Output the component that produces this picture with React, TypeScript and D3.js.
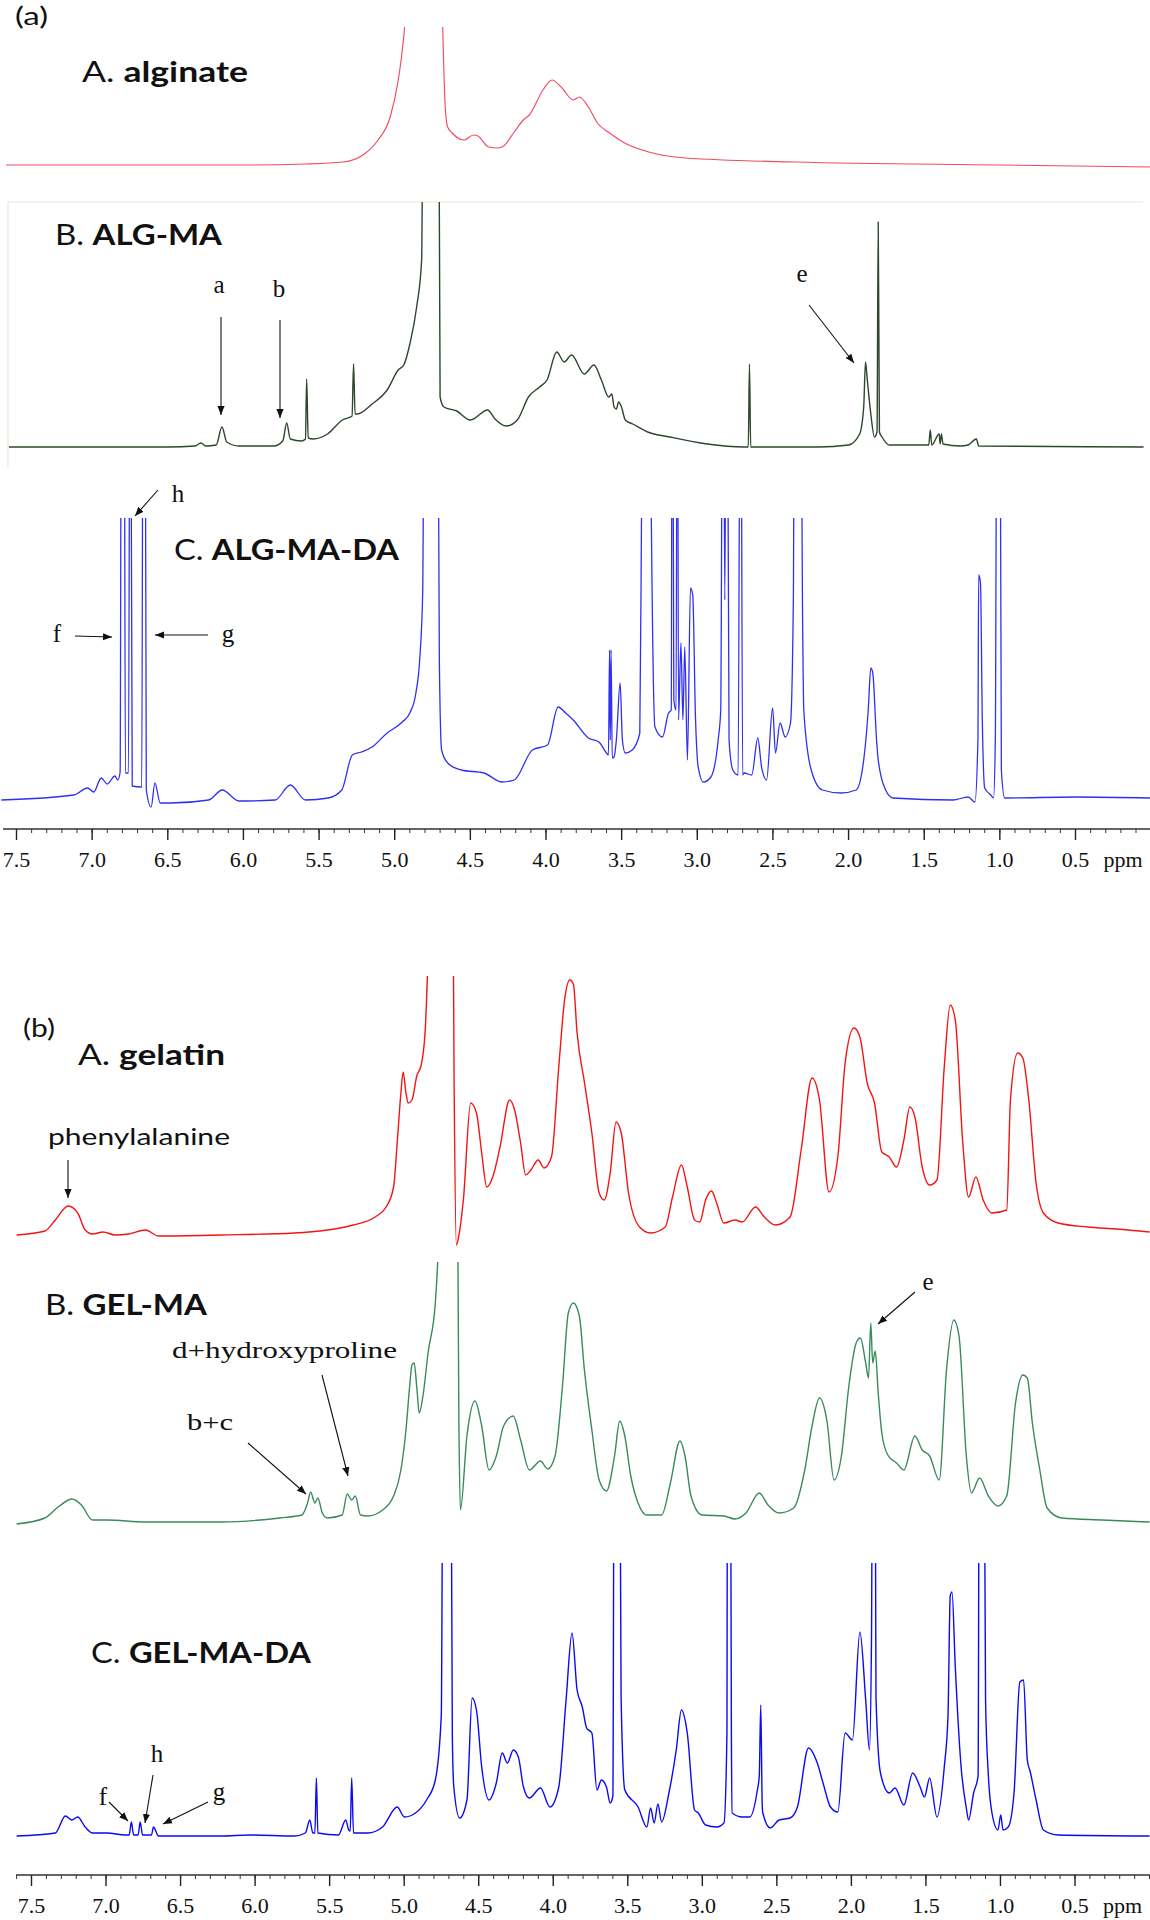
import React from 'react';
import * as d3 from 'd3';

type Pt = [number, number];

// ---------- data: [ppm, intensity] ----------
const alginate: Pt[] = [
  [7.57, 0], [6.6, 0], [6.0, 0], [5.59, 1], [5.34, 3], [5.21, 10], [5.11, 25], [5.03, 48], [4.98, 82],
  [4.95, 115], [4.93, 150], [4.88, 500], [4.73, 500], [4.685, 150], [4.665, 55], [4.65, 38], [4.62, 32],
  [4.54, 25], [4.48, 30], [4.45, 29], [4.38, 18], [4.32, 17], [4.28, 19], [4.21, 33], [4.15, 45], [4.11, 50],
  [4.02, 75], [3.96, 85], [3.90, 78], [3.82, 65], [3.78, 68], [3.72, 58], [3.66, 42], [3.58, 32], [3.48, 22],
  [3.32, 13], [3.08, 7], [2.35, 3], [1.0, 0], [0.0, -2],
];

const algMA: Pt[] = [
  [7.55, 0], [6.5, 0], [6.32, 1], [6.28, 4], [6.25, 1], [6.18, 2], [6.142, 20], [6.11, 5], [6.03, 1], [5.8, 1],
  [5.74, 6], [5.714, 24], [5.69, 8], [5.616, 6], [5.59, 8], [5.582, 68], [5.572, 9], [5.54, 8], [5.444, 13],
  [5.346, 27], [5.282, 31], [5.272, 83], [5.262, 33], [5.247, 33], [5.149, 43], [5.05, 57], [4.977, 77],
  [4.94, 82], [4.9, 103], [4.855, 140], [4.822, 187], [4.805, 600], [4.715, 600], [4.7, 50], [4.675, 40],
  [4.59, 36], [4.5, 27], [4.386, 37], [4.337, 28], [4.263, 21], [4.19, 27], [4.116, 50], [4.042, 60],
  [3.993, 67], [3.929, 95], [3.88, 85], [3.831, 92], [3.747, 73], [3.683, 82], [3.634, 67], [3.585, 50],
  [3.565, 53], [3.55, 40], [3.535, 38], [3.52, 45], [3.501, 40], [3.476, 27], [3.427, 23], [3.328, 15],
  [3.181, 10], [2.935, 3], [2.689, 0], [2.663, 0], [2.655, 83], [2.647, 0], [2.2, 0], [2.0, 2], [1.927, 13],
  [1.9, 40], [1.888, 85], [1.878, 70], [1.853, 33], [1.829, 10], [1.812, 15], [1.804, 225], [1.796, 15],
  [1.779, 10], [1.73, 2], [1.47, 2], [1.46, 17], [1.45, 2], [1.401, 13], [1.395, 3], [1.386, 13], [1.376, 3],
  [1.26, 1], [1.21, 2], [1.155, 8], [1.14, 1], [0.05, 0],
];

const algMADA: Pt[] = [
  [7.6, 0], [7.12, 5], [7.03, 12], [6.99, 8], [6.94, 22], [6.9, 16], [6.85, 24], [6.83, 20],
  [6.815, 28], [6.805, 600], [6.79, 600], [6.78, 27], [6.76, 27], [6.748, 600], [6.735, 14], [6.672, 13],
  [6.662, 600], [6.652, 600], [6.642, 10], [6.61, -7], [6.585, 17], [6.55, -3], [6.48, -3], [6.23, 0],
  [6.14, 10], [6.03, -1], [5.79, 0], [5.69, 15], [5.59, 0], [5.44, 2], [5.35, 10], [5.28, 45], [5.22, 48],
  [5.15, 53], [5.05, 67], [4.95, 78], [4.9, 87], [4.86, 107], [4.835, 140], [4.815, 208], [4.8, 600],
  [4.72, 600], [4.705, 140], [4.69, 50], [4.65, 37], [4.56, 30], [4.41, 27], [4.29, 18], [4.21, 20],
  [4.09, 50], [3.99, 55], [3.92, 93], [3.87, 87], [3.82, 80], [3.72, 62], [3.65, 58], [3.6, 47], [3.587, 45],
  [3.58, 150], [3.575, 60], [3.57, 150], [3.562, 42], [3.55, 43], [3.535, 60], [3.51, 117], [3.495, 60],
  [3.476, 47], [3.43, 50], [3.38, 67], [3.368, 300], [3.35, 600], [3.32, 600], [3.305, 300], [3.28, 73],
  [3.23, 63], [3.19, 87], [3.172, 90], [3.165, 600], [3.155, 100], [3.14, 90], [3.132, 600], [3.124, 80],
  [3.108, 157], [3.095, 80], [3.083, 153], [3.065, 40], [3.045, 212], [3.03, 205], [3.012, 83], [2.994, 33],
  [2.96, 18], [2.91, 23], [2.862, 60], [2.845, 90], [2.83, 600], [2.818, 200], [2.805, 600], [2.79, 60],
  [2.765, 30], [2.73, 25], [2.714, 600], [2.7, 25], [2.69, 27], [2.64, 25], [2.6, 62], [2.575, 33],
  [2.542, 20], [2.502, 92], [2.483, 47], [2.453, 77], [2.419, 63], [2.384, 77], [2.365, 200], [2.355, 600],
  [2.321, 600], [2.305, 200], [2.296, 90], [2.247, 30], [2.173, 10], [2.05, 7], [1.95, 10], [1.9, 40],
  [1.87, 90], [1.853, 132], [1.84, 127], [1.815, 60], [1.804, 40], [1.755, 10], [1.706, 2], [1.31, 0],
  [1.21, 3], [1.165, -2], [1.145, 60], [1.14, 225], [1.128, 217], [1.116, 80], [1.1, 12], [1.06, 5],
  [1.042, 2], [1.03, 60], [1.017, 600], [1.002, 600], [0.99, 30], [0.968, 2], [0.5, 3], [0.0, 2],
];

const gelatin: Pt[] = [
  [7.6, -1], [7.41, 3], [7.34, 14], [7.254, 28], [7.19, 21], [7.14, 4], [7.09, 0], [7.02, 2], [6.94, -1],
  [6.85, 0], [6.736, 4], [6.648, -2], [6.23, -1], [5.736, 1], [5.342, 9], [5.195, 17], [5.121, 27],
  [5.071, 47], [5.047, 91], [5.022, 141], [5.007, 162], [4.988, 141], [4.973, 131], [4.948, 134],
  [4.914, 159], [4.889, 167], [4.86, 201], [4.835, 300], [4.8, 500], [4.68, 500], [4.665, 150], [4.65, -11],
  [4.635, -3], [4.603, 34], [4.554, 131], [4.515, 121], [4.48, 81], [4.446, 47], [4.406, 57], [4.357, 87],
  [4.293, 134], [4.259, 124], [4.219, 91], [4.185, 59], [4.15, 64], [4.101, 74], [4.062, 66], [4.012, 77],
  [3.963, 167], [3.924, 234], [3.889, 254], [3.865, 250], [3.84, 201], [3.79, 151], [3.741, 101],
  [3.692, 41], [3.658, 34], [3.618, 61], [3.579, 112], [3.544, 101], [3.495, 41], [3.421, 7], [3.347, 1],
  [3.249, 7], [3.2, 37], [3.14, 69], [3.101, 47], [3.052, 14], [3.017, 12], [2.978, 34], [2.938, 43],
  [2.904, 31], [2.855, 11], [2.781, 14], [2.732, 12], [2.643, 27], [2.584, 17], [2.51, 9], [2.411, 17],
  [2.337, 84], [2.264, 156], [2.214, 134], [2.15, 42], [2.091, 77], [2.042, 171], [1.983, 206], [1.943, 197],
  [1.894, 151], [1.845, 131], [1.796, 82], [1.746, 77], [1.697, 67], [1.648, 94], [1.608, 127], [1.574, 117],
  [1.525, 67], [1.475, 49], [1.426, 54], [1.377, 167], [1.337, 229], [1.303, 214], [1.254, 94], [1.214, 37],
  [1.165, 57], [1.116, 34], [1.057, 21], [0.958, 24], [0.933, 134], [0.885, 181], [0.85, 176], [0.81, 134],
  [0.761, 51], [0.712, 21], [0.613, 11], [0.416, 7], [0.219, 5], [0.0, 2],
];

const gelMA: Pt[] = [
  [7.6, -1], [7.41, 5], [7.313, 17], [7.229, 24], [7.165, 18], [7.091, 3], [6.993, 3], [6.736, 1], [6.229, 1],
  [5.835, 5], [5.687, 8], [5.648, 20], [5.628, 31], [5.599, 20], [5.579, 25], [5.549, 10], [5.515, 5],
  [5.416, 8], [5.382, 29], [5.352, 23], [5.328, 27], [5.293, 8], [5.244, 7], [5.145, 13], [5.071, 27],
  [5.022, 53], [4.988, 93], [4.963, 137], [4.948, 158], [4.933, 160], [4.914, 133], [4.899, 110],
  [4.874, 127], [4.84, 170], [4.791, 220], [4.766, 300], [4.74, 500], [4.65, 500], [4.633, 100], [4.623, 13],
  [4.579, 87], [4.525, 122], [4.48, 97], [4.431, 53], [4.382, 67], [4.333, 97], [4.268, 107], [4.219, 83],
  [4.16, 53], [4.086, 62], [4.037, 54], [3.988, 67], [3.938, 137], [3.899, 210], [3.865, 220], [3.825, 207],
  [3.791, 153], [3.741, 93], [3.692, 43], [3.643, 32], [3.589, 67], [3.554, 102], [3.52, 87], [3.48, 47],
  [3.431, 20], [3.372, 8], [3.273, 8], [3.214, 40], [3.15, 82], [3.116, 67], [3.076, 27], [3.002, 8],
  [2.855, 7], [2.781, 4], [2.707, 10], [2.618, 30], [2.559, 18], [2.485, 10], [2.387, 15], [2.313, 53],
  [2.264, 97], [2.214, 125], [2.165, 103], [2.116, 43], [2.067, 67], [2.017, 137], [1.968, 180], [1.94, 185],
  [1.904, 160], [1.885, 145], [1.87, 200], [1.857, 160], [1.84, 172], [1.82, 130], [1.796, 90], [1.756, 68],
  [1.697, 60], [1.648, 53], [1.574, 87], [1.525, 73], [1.475, 67], [1.411, 43], [1.362, 153], [1.313, 203],
  [1.278, 187], [1.229, 67], [1.195, 30], [1.14, 45], [1.081, 27], [1.017, 17], [0.958, 27], [0.899, 120],
  [0.85, 148], [0.82, 145], [0.786, 100], [0.736, 53], [0.687, 15], [0.589, 5], [0.318, 3], [0.0, 1],
];

const gelMADA: Pt[] = [
  [7.6, 0], [7.34, 3], [7.273, 20], [7.229, 16], [7.19, 19], [7.14, 9], [7.091, 3], [6.993, 3], [6.87, 1],
  [6.845, 1], [6.83, 14], [6.815, 1], [6.785, 1], [6.771, 14], [6.755, 1], [6.695, 1], [6.682, 9],
  [6.648, 0], [6.229, 0], [6.032, 1], [5.736, 0], [5.663, 3], [5.633, 16], [5.613, 3], [5.599, 3],
  [5.589, 58], [5.579, 3], [5.441, 1], [5.392, 16], [5.372, 6], [5.362, 5], [5.352, 58], [5.34, 3],
  [5.244, 3], [5.145, 9], [5.047, 29], [4.998, 19], [4.924, 23], [4.85, 36], [4.791, 56], [4.751, 121],
  [4.735, 600], [4.692, 600], [4.677, 100], [4.667, 49], [4.628, 18], [4.579, 36], [4.544, 138],
  [4.515, 126], [4.48, 69], [4.431, 36], [4.382, 53], [4.342, 83], [4.308, 73], [4.268, 86], [4.234, 79],
  [4.2, 49], [4.16, 38], [4.086, 48], [4.022, 29], [3.963, 49], [3.914, 136], [3.874, 203], [3.84, 146],
  [3.805, 129], [3.776, 108], [3.741, 103], [3.707, 46], [3.677, 56], [3.643, 49], [3.618, 33], [3.6, 40],
  [3.589, 600], [3.575, 300], [3.559, 600], [3.545, 140], [3.52, 46], [3.431, 29], [3.372, 9], [3.347, 28],
  [3.323, 13], [3.298, 32], [3.273, 14], [3.224, 43], [3.175, 86], [3.14, 126], [3.101, 103], [3.052, 26],
  [3.027, 23], [2.978, 11], [2.904, 9], [2.855, 13], [2.835, 100], [2.83, 600], [2.815, 600], [2.805, 100],
  [2.8, 23], [2.732, 19], [2.682, 19], [2.633, 44], [2.618, 60], [2.608, 131], [2.598, 30], [2.594, 23],
  [2.544, 8], [2.485, 16], [2.411, 18], [2.362, 29], [2.288, 88], [2.229, 73], [2.19, 53], [2.14, 29],
  [2.091, 24], [2.042, 103], [1.993, 96], [1.943, 204], [1.904, 136], [1.879, 86], [1.865, 200], [1.855, 600],
  [1.845, 600], [1.835, 139], [1.805, 63], [1.746, 43], [1.707, 48], [1.648, 31], [1.589, 63], [1.539, 49],
  [1.51, 39], [1.475, 58], [1.426, 19], [1.377, 69], [1.352, 120], [1.337, 240], [1.325, 244], [1.303, 169],
  [1.264, 69], [1.229, 28], [1.214, 16], [1.18, 43], [1.15, 60], [1.14, 600], [1.116, 600], [1.1, 136],
  [1.081, 60], [1.057, 23], [1.017, 6], [0.998, 21], [0.983, 6], [0.948, 9], [0.909, 43], [0.87, 154],
  [0.845, 156], [0.82, 76], [0.8, 64], [0.761, 36], [0.712, 6], [0.613, 1], [0.0, 0],
];

const majorTicks: number[] = [7.5, 7.0, 6.5, 6.0, 5.5, 5.0, 4.5, 4.0, 3.5, 3.0, 2.5, 2.0, 1.5, 1.0, 0.5];
const axisUnit = 'ppm';

// ---------- layout ----------
const W = 1150;
const H = 1920;
const xA = d3.scaleLinear().domain([7.5, 0.5]).range([16.5, 1075.5]);
const xB = d3.scaleLinear().domain([7.5, 0.5]).range([31.5, 1075]);

const SANS = 'Lato, "Open Sans", sans-serif';
const SERIF = '"Liberation Serif", "DejaVu Serif", serif';

function Spectrum({ id, data, x, base, top, color, width = 1.3 }: { id: string; data: Pt[]; x: d3.ScaleLinear<number, number>; base: number; top: number; color: string; width?: number }) {
  const y = d3.scaleLinear().domain([0, 100]).range([base, base - 100]);
  const line = d3.line<Pt>().x((d) => x(d[0])).y((d) => y(d[1])).curve(d3.curveMonotoneX);
  return (
    <g>
      <clipPath id={id}>
        <rect x={0} y={top} width={W} height={base - top + 60} />
      </clipPath>
      <path d={line(data) || ''} fill="none" stroke={color} strokeWidth={width} strokeLinejoin="round" clipPath={`url(#${id})`} />
    </g>
  );
}

function Axis({ x, y, x0, labelY }: { x: d3.ScaleLinear<number, number>; y: number; x0: number; labelY: number }) {
  const minors = d3.range(0, 77).map((i) => +(7.6 - i * 0.1).toFixed(1)).filter((v) => x(v) >= x0 && x(v) <= W);
  const fmt = d3.format('.1f');
  return (
    <g>
      <line x1={x0} x2={W} y1={y} y2={y} stroke="#333" strokeWidth={1.6} />
      {minors.map((v) => (
        <line key={'m' + v} x1={x(v)} x2={x(v)} y1={y} y2={y + 4} stroke="#333" strokeWidth={1} />
      ))}
      {majorTicks.map((v) => (
        <line key={'M' + v} x1={x(v)} x2={x(v)} y1={y} y2={y + 11} stroke="#222" strokeWidth={1.4} />
      ))}
      {majorTicks.map((v) => (
        <text key={'t' + v} x={x(v)} y={labelY} textAnchor="middle" fontFamily={SERIF} fontSize={22} fill="#111">
          {fmt(v)}
        </text>
      ))}
      <text x={x(0.5) + 28} y={labelY} fontFamily={SERIF} fontSize={22} fill="#111">{axisUnit}</text>
    </g>
  );
}

function Arrow({ x1, y1, x2, y2 }: { x1: number; y1: number; x2: number; y2: number }) {
  return <line x1={x1} y1={y1} x2={x2} y2={y2} stroke="#111" strokeWidth={1.1} markerEnd="url(#ah)" />;
}

function Title({ x, y, pre, name, w }: { x: number; y: number; pre: string; name: string; w: number }) {
  return (
    <text x={x} y={y} fontFamily={SANS} fontSize={28.5} fill="#111" textLength={w} lengthAdjust="spacingAndGlyphs">
      <tspan>{pre} </tspan>
      <tspan fontWeight="bold">{name}</tspan>
    </text>
  );
}

function Label({ x, y, t, w, size = 24, font = SERIF }: { x: number; y: number; t: string; w: number; size?: number; font?: string }) {
  return (
    <text x={x} y={y} fontFamily={font} fontSize={size} fill="#111" textLength={w} lengthAdjust="spacingAndGlyphs">
      {t}
    </text>
  );
}

function Serif({ x, y, t, size = 25 }: { x: number; y: number; t: string; size?: number }) {
  return (
    <text x={x} y={y} fontFamily={SERIF} fontSize={size} fill="#111" textAnchor="middle">
      {t}
    </text>
  );
}

export default function App() {
  return (
    <svg width={W} height={H} viewBox={`0 0 ${W} ${H}`} style={{ position: 'absolute', left: 0, top: 0, background: '#fff' }}>
      <defs>
        <marker id="ah" viewBox="0 0 10 10" refX="10" refY="5" markerWidth="9" markerHeight="9" markerUnits="userSpaceOnUse" orient="auto">
          <path d="M0,1 L10,5 L0,9 z" fill="#111" />
        </marker>
      </defs>
      <rect x={0} y={0} width={W} height={H} fill="#fff" />

      {/* ---------- panel (a) ---------- */}
      <Label x={15} y={25} t="(a)" w={33} font={SANS} size={25} />
      <Title x={82} y={82} pre="A." name="alginate" w={166} />
      <Spectrum id="c1" data={alginate} x={xA} base={165} top={27} color="#f04a64" width={1.15} />

      <line x1={8} x2={1143} y1={202} y2={202} stroke="#e2ecd6" strokeWidth={1.2} />
      <line x1={8} x2={8} y1={202} y2={467} stroke="#e2ecd6" strokeWidth={1.2} />
      <Title x={55} y={245} pre="B." name="ALG-MA" w={167} />
      <Spectrum id="c2" data={algMA} x={xA} base={447} top={202} color="#2c472c" width={1.4} />
      <Serif x={219} y={293} t="a" />
      <Arrow x1={221} y1={317} x2={221} y2={415} />
      <Serif x={279} y={297} t="b" />
      <Arrow x1={280} y1={320} x2={280} y2={418} />
      <Serif x={802} y={282} t="e" />
      <Arrow x1={809} y1={305} x2={854} y2={363} />

      <Title x={174} y={560} pre="C." name="ALG-MA-DA" w={225} />
      <Spectrum id="c3" data={algMADA} x={xA} base={800} top={518} color="#3030f2" width={1.3} />
      <Serif x={178} y={502} t="h" />
      <Arrow x1={158} y1={490} x2={135} y2={516} />
      <Serif x={57} y={642} t="f" />
      <Arrow x1={75} y1={636} x2={112} y2={637} />
      <Serif x={228} y={642} t="g" />
      <Arrow x1={208} y1={635} x2={155} y2={635} />

      <Axis x={xA} y={829} x0={3} labelY={867} />

      {/* ---------- panel (b) ---------- */}
      <Label x={23} y={1037} t="(b)" w={32} font={SANS} size={25} />
      <Title x={78} y={1065} pre="A." name="gelatin" w={147} />
      <Label x={48} y={1145} t="phenylalanine" w={182} font={SANS} size={24} />
      <Arrow x1={68} y1={1160} x2={68} y2={1198} />
      <Spectrum id="c4" data={gelatin} x={xB} base={1234} top={976} color="#f41414" width={1.4} />

      <Title x={45} y={1315} pre="B." name="GEL-MA" w={162} />
      <Spectrum id="c5" data={gelMA} x={xB} base={1523} top={1262} color="#3a8a5b" width={1.4} />
      <Serif x={928} y={1290} t="e" />
      <Arrow x1={915} y1={1292} x2={878} y2={1324} />
      <Label x={172} y={1358} t="d+hydroxyproline" w={225} />
      <Arrow x1={322} y1={1375} x2={348} y2={1476} />
      <Label x={187} y={1430} t="b+c" w={46} />
      <Arrow x1={248} y1={1443} x2={306} y2={1494} />

      <Title x={91} y={1663} pre="C." name="GEL-MA-DA" w={220} />
      <Spectrum id="c6" data={gelMADA} x={xB} base={1836} top={1563} color="#0a0af5" width={1.4} />
      <Serif x={157} y={1762} t="h" />
      <Arrow x1={153} y1={1775} x2={145} y2={1823} />
      <Serif x={103} y={1805} t="f" />
      <Arrow x1={109} y1={1802} x2={128} y2={1821} />
      <Serif x={219} y={1800} t="g" />
      <Arrow x1={208} y1={1802} x2={163} y2={1824} />

      <Axis x={xB} y={1875} x0={16} labelY={1913} />
    </svg>
  );
}
